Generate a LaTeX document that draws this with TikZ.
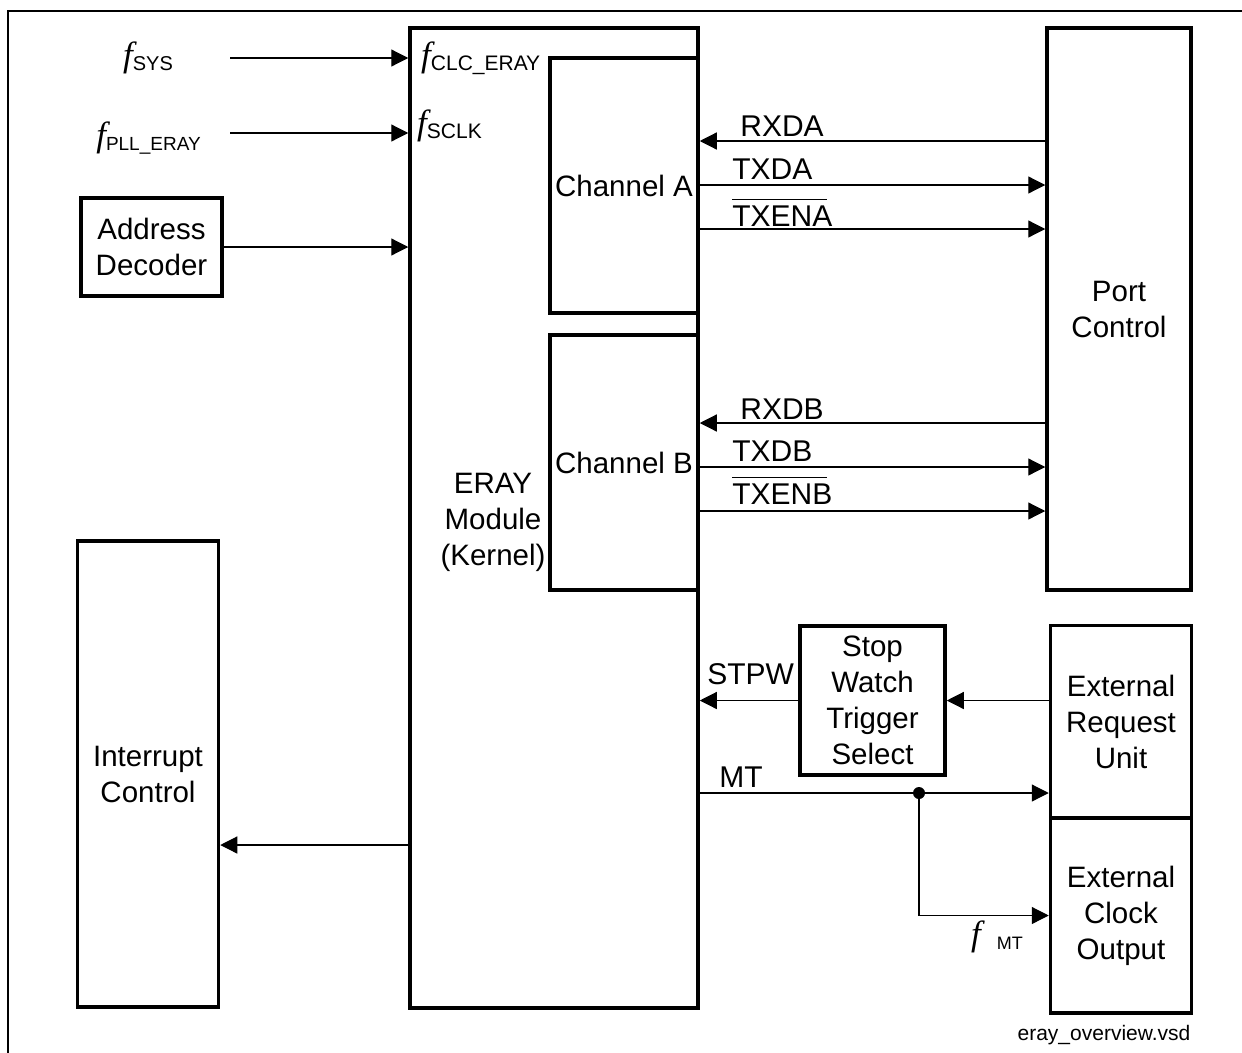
\documentclass[tikz,border=0pt]{standalone}
\usepackage{fontspec}
\setmainfont{Liberation Sans}
\newfontfamily\timesf{Liberation Serif}
\usetikzlibrary{arrows.meta, positioning, calc}

\newcommand{\fsig}[2]{{\timesf\itshape\fontsize{35}{35}\selectfont f}\raisebox{-4pt}{\fontsize{#1}{#1}\selectfont #2}}
\newcommand{\ovl}[1]{\setbox0\hbox{#1}\rlap{\rule[\dimexpr\ht0+6pt\relax]{0.95\wd0}{1.2pt}}\box0}

\tikzset{
	blk/.style={draw, line width=3.5pt, align=center, inner sep=0pt, font=\fontsize{29.5}{36}\selectfont},
	sig/.style={line width=1.2pt, -{Triangle[length=17pt,width=17pt]}},
	lbl/.style={inner sep=0pt, font=\fontsize{30}{30}\selectfont}
}

\begin{document}
\begin{tikzpicture}[x=1pt, y=-1pt]
	\useasboundingbox (0,0) rectangle (1242,1052);
	\draw[line width=1.3pt] (8,1070) -- (8,11) -- (1260,11);

	% blocks
	\node[blk, minimum width=288pt, minimum height=980pt] (eray) at (554,518) {};
	\node[blk, minimum width=148pt, minimum height=255pt] (chA) at (624,185.5) {Channel A};
	\node[blk, minimum width=148pt, minimum height=255pt] (chB) at (624,462.5) {Channel B};
	\node[blk, draw=none, align=center] (kernel) at (493,522) {ERAY\\Module\\(Kernel)};
	\node[blk, minimum width=141pt, minimum height=98pt] (addr) at (151.5,247) {Address\\Decoder};
	\node[blk, minimum width=141pt, minimum height=466pt] (irq) at (148,774) {Interrupt\\Control};
	\node[blk, minimum width=144pt, minimum height=562pt] (port) at (1119,309) {Port\\Control};
	\node[blk, minimum width=145pt, minimum height=149pt] (stpw) at (872.5,700.5) {Stop\\Watch\\Trigger\\Select};
	\node[blk, minimum width=141pt, minimum height=193pt] (extreq) at (1121,722) {External\\Request\\Unit};
	\node[blk, minimum width=141pt, minimum height=195pt] (extclk) at (1121,915.5) {External\\Clock\\Output};

	% clock inputs
	\node[anchor=base, inner sep=0pt] (fsys) at (148,66) {\fsig{20}{SYS}};
	\node[anchor=base, inner sep=0pt] (fpll) at (148.5,146) {\fsig{19}{PLL\_ERAY}};
	\node[anchor=base west, inner sep=0pt] (fclc) at (421,66) {\fsig{21}{CLC\_ERAY}};
	\node[anchor=base west, inner sep=0pt] (fsclk) at (417,134) {\fsig{21}{SCLK}};
	\coordinate (sysin) at (230,58);
	\coordinate (pllin) at (230,133);
	\draw[sig] (sysin) -- (sysin -| eray.west);
	\draw[sig] (pllin) -- (pllin -| eray.west);
	\draw[sig] (addr.east) -- (addr.east -| eray.west);
	\coordinate (irqout) at (410,845);
	\draw[sig] (irqout -| eray.west) -- (irqout -| irq.east);

	% channel A
	\draw[sig] (port.west |- 0,141) -- (chA.east |- 0,141) node[lbl, above right=4pt and 40pt] {RXDA};
	\draw[sig] (chA.east |- 0,185) node[lbl, above right=5pt and 32pt] {TXDA} -- (port.west |- 0,185);
	\draw[sig] (chA.east |- 0,229) node[lbl, above right=2pt and 32pt] {\ovl{TXENA}} -- (port.west |- 0,229);

	% channel B
	\draw[sig] (port.west |- 0,423) -- (chB.east |- 0,423) node[lbl, above right=3pt and 40pt] {RXDB};
	\draw[sig] (chB.east |- 0,467) node[lbl, above right=5pt and 32pt] {TXDB} -- (port.west |- 0,467);
	\draw[sig] (chB.east |- 0,511) node[lbl, above right=6pt and 32pt] {\ovl{TXENB}} -- (port.west |- 0,511);

	% stop watch and macrotick
	\draw[sig] (extreq.west |- stpw.east) -- (stpw.east);
	\draw[sig] (stpw.west) -- (stpw.west -| eray.east) node[lbl, above right=15pt and 7pt] {STPW};
	\coordinate (mt) at (919,793);
	\draw[line width=1.2pt] (mt -| eray.east) node[lbl, above right=5pt and 19pt] {MT} -- (mt);
	\draw[sig] (mt) -- (mt -| extreq.west);
	\draw[sig] (mt) |- (extclk.west);
	\fill (mt) circle (6pt);
	\node[anchor=base east, inner sep=0pt] (fmt) at (1023,945) {\fsig{18}{\hspace{16pt}MT}};

	\node[font=\fontsize{21}{21}\selectfont] (fname) at (1104,1035) {eray\_overview.vsd};
\end{tikzpicture}
\end{document}
